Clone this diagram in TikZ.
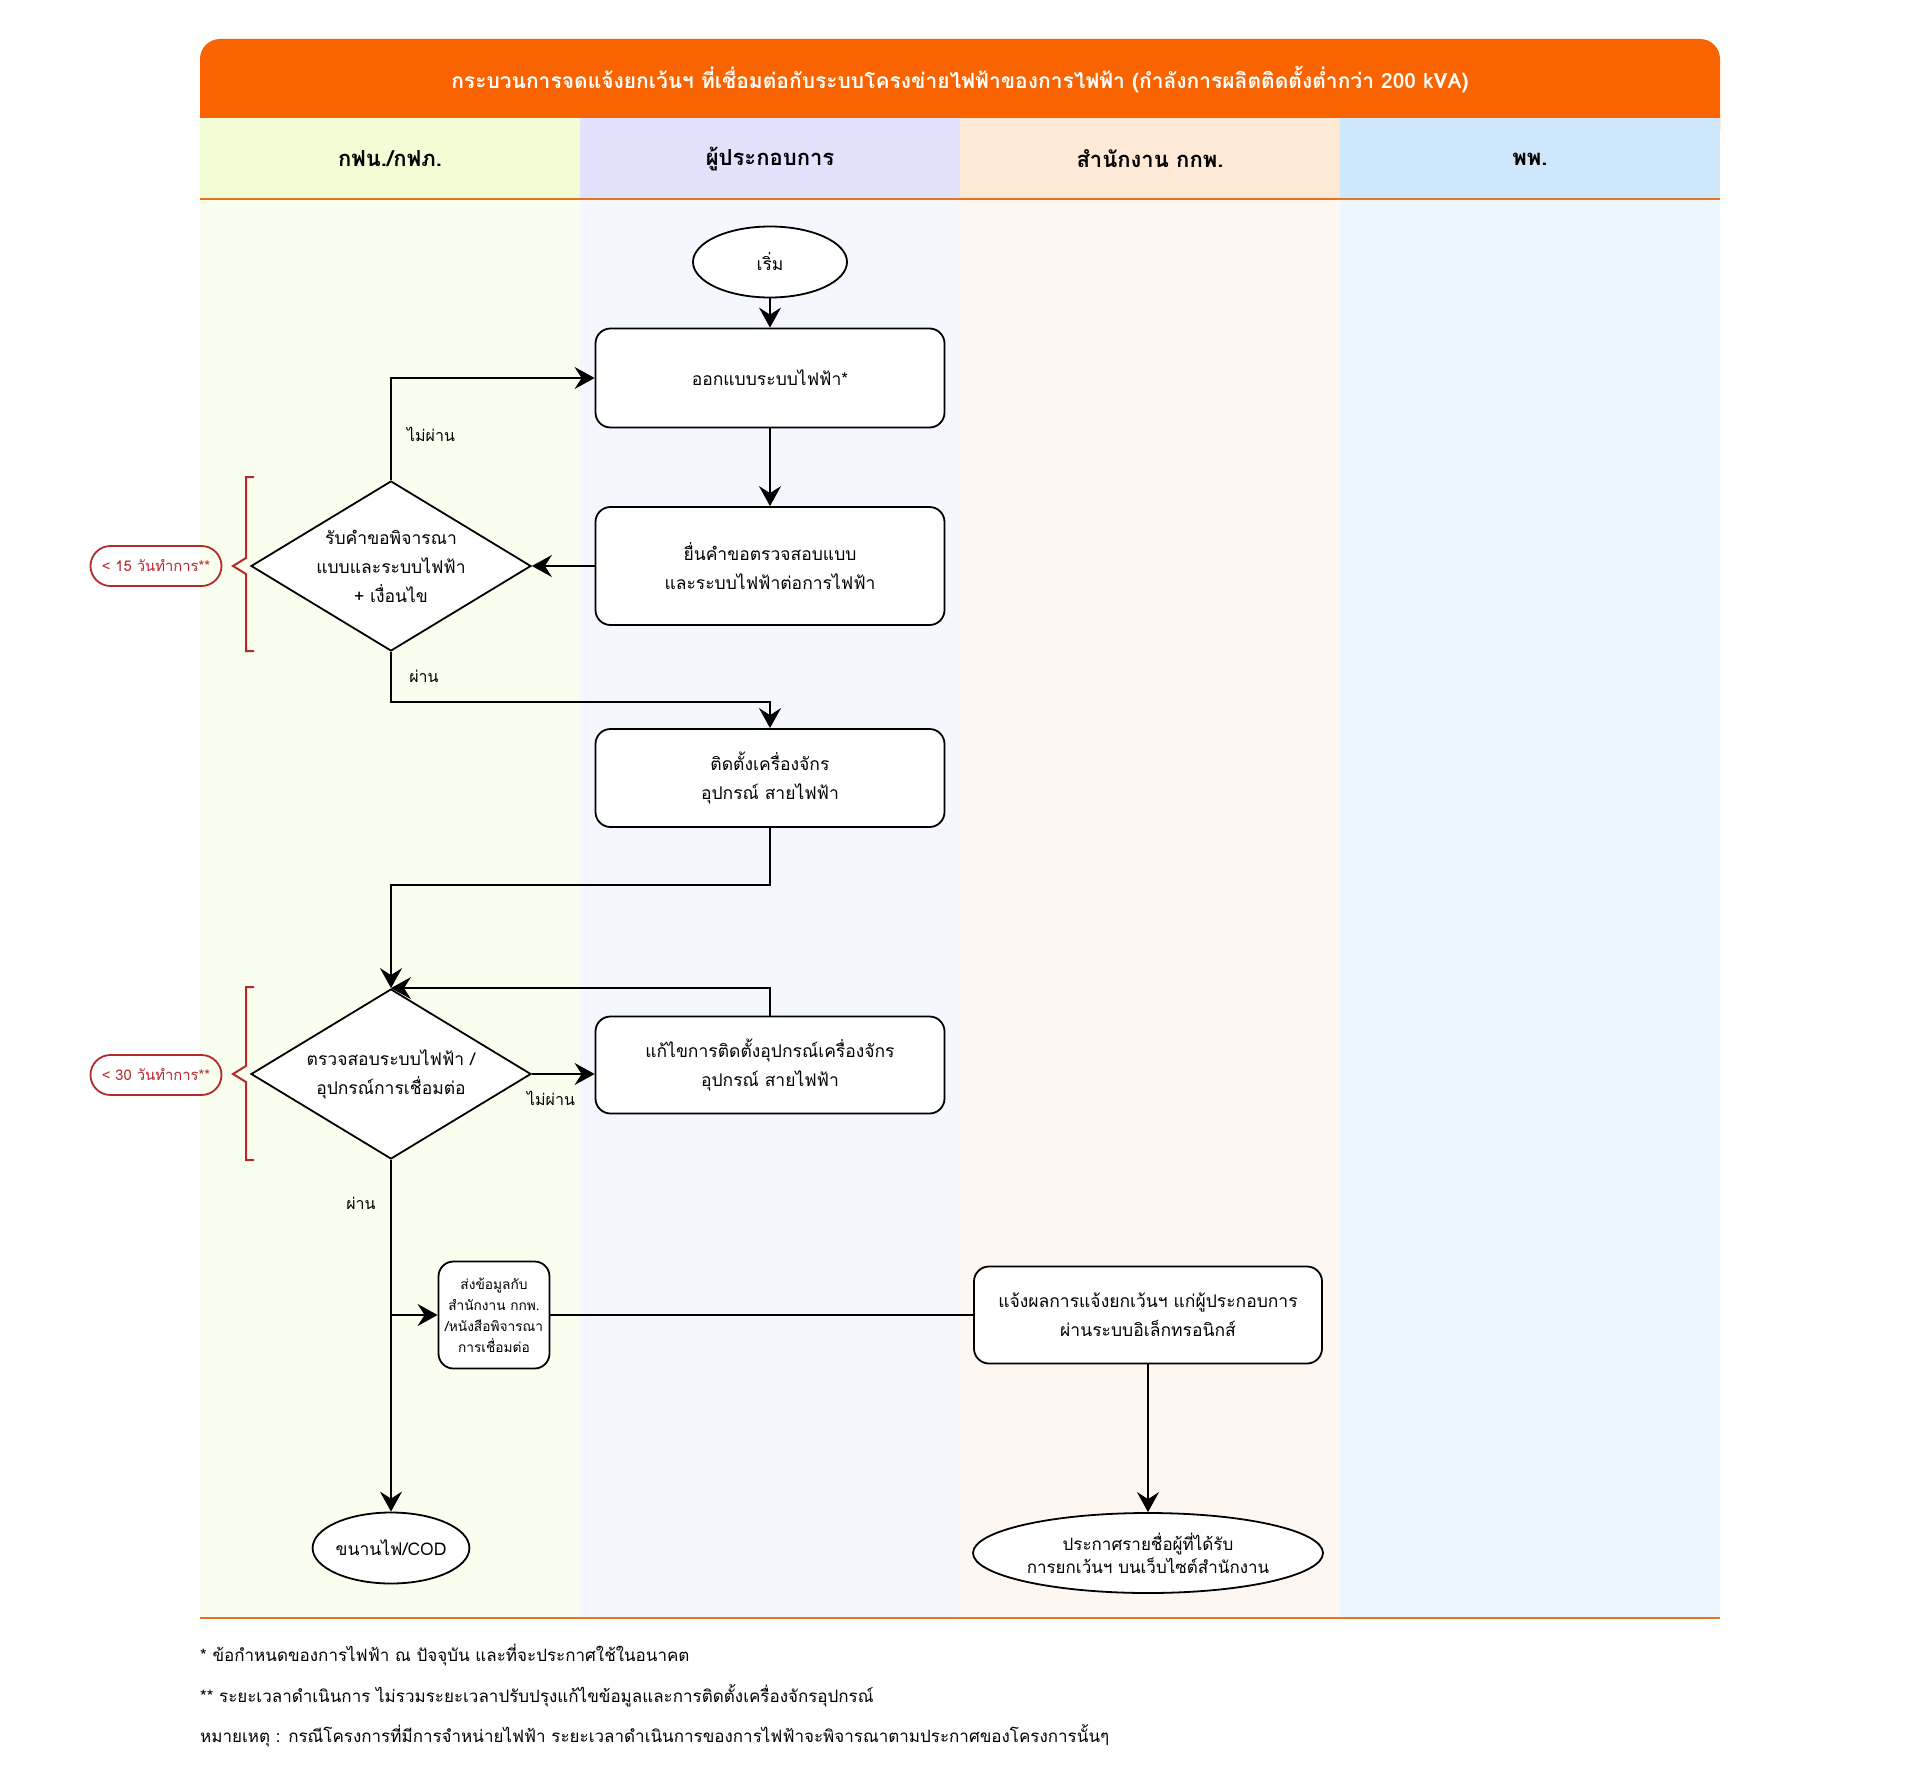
\documentclass[tikz,border=0pt]{standalone}
\usepackage{fontspec}
\setmainfont[Script=Thai]{Loma}
\usetikzlibrary{shapes.geometric,arrows.meta}

\definecolor{hdorange}{HTML}{F96400}
\definecolor{lineorange}{HTML}{E8731E}
\definecolor{lanea}{HTML}{F2FDD6}
\definecolor{laneb}{HTML}{E2E2FD}
\definecolor{lanec}{HTML}{FEE8D6}
\definecolor{laned}{HTML}{CFE7FA}
\definecolor{bodya}{HTML}{F9FEEF}
\definecolor{bodyb}{HTML}{F4F7FE}
\definecolor{bodyc}{HTML}{FEF6F1}
\definecolor{bodyd}{HTML}{EEF6FD}
\definecolor{notered}{HTML}{B5292B}

\newcommand{\boxfont}{\fontsize{17.5}{29}\selectfont}
\newcommand{\smallfont}{\fontsize{13.7}{21}\selectfont}
\newcommand{\labelfont}{\fontsize{16}{20}\selectfont}
\newcommand{\notefont}{\fontsize{17}{20}\selectfont}
\newcommand{\daysfont}{\fontsize{14.8}{18}\selectfont}
\newcommand{\lanefont}{\fontsize{22}{24}\selectfont\bfseries}

\begin{document}
\begin{tikzpicture}[x=1pt, y=-1pt,
    box/.style={draw, line width=1.8pt, rounded corners=15pt, fill=white, minimum width=349pt, inner sep=0pt, align=center, font=\boxfont},
    dia/.style={draw, diamond, aspect=1.65, line width=1.8pt, fill=white, inner sep=0pt, minimum width=280pt, minimum height=170pt, align=center, font=\boxfont},
    oval/.style={draw, ellipse, line width=1.8pt, fill=white, inner sep=0pt, align=center, font=\boxfont},
    arr/.style={line width=1.8pt, -{Stealth[length=20pt, width=22pt, inset=7pt]}},
    line/.style={line width=1.8pt},
    lbl/.style={font=\labelfont},
    days/.style={draw=notered, text=notered, line width=1.8pt, rounded corners=20pt, minimum width=131pt, minimum height=40pt, inner sep=0pt, font=\daysfont},
    brace/.style={draw=notered, line width=2pt},
    note/.style={anchor=west, inner sep=0pt, font=\notefont}
  ]
    \useasboundingbox[fill=white] (0,0) rectangle (1920,1769);

    % header and lanes
    \fill[hdorange, rounded corners=20pt] (200,39) rectangle (1720,150);
    \fill[lanea] (200,118) rectangle (580,198);
    \fill[laneb] (580,118) rectangle (960,198);
    \fill[lanec] (960,118) rectangle (1340,198);
    \fill[laned] (1340,118) rectangle (1720,198);
    \fill[bodya] (200,198) rectangle (580,1618);
    \fill[bodyb] (580,198) rectangle (960,1618);
    \fill[bodyc] (960,198) rectangle (1340,1618);
    \fill[bodyd] (1340,198) rectangle (1720,1618);
    \draw[lineorange, line width=2.5pt] (200,199) -- (1720,199);
    \draw[lineorange, line width=2.5pt] (200,1618) -- (1720,1618);

    \node(title) at (960,80) [text=white, font=\fontsize{21}{24}\selectfont\bfseries] {กระบวนการจดแจ้งยกเว้นฯ ที่เชื่อมต่อกับระบบโครงข่ายไฟฟ้าของการไฟฟ้า (กำลังการผลิตติดตั้งต่ำกว่า 200 kVA)};
    \node(laneA) at (390,159) [font=\lanefont] {กฟน./กฟภ.};
    \node(laneB) at (770,159) [font=\lanefont] {ผู้ประกอบการ};
    \node(laneC) at (1150,159) [font=\lanefont] {สำนักงาน กกพ.};
    \node(laneD) at (1530,159) [font=\lanefont] {พพ.};

    % flow
    \node(start) at (770,262) [oval, minimum width=154pt, minimum height=71pt] {เริ่ม};
    \node(design) at (770,378) [box, minimum height=99pt] {ออกแบบระบบไฟฟ้า*};
    \node(submit) at (770,566) [box, minimum height=118pt] {ยื่นคำขอตรวจสอบแบบ\\และระบบไฟฟ้าต่อการไฟฟ้า};
    \node(review) at (391,566) [dia] {รับคำขอพิจารณา\\แบบและระบบไฟฟ้า\\+ เงื่อนไข};
    \node(install) at (770,778) [box, minimum height=98pt] {ติดตั้งเครื่องจักร\\อุปกรณ์ สายไฟฟ้า};
    \node(check) at (391,1074) [dia] {ตรวจสอบระบบไฟฟ้า /\\อุปกรณ์การเชื่อมต่อ};
    \node(fix) at (770,1065) [box, minimum height=97pt] {แก้ไขการติดตั้งอุปกรณ์เครื่องจักร\\อุปกรณ์ สายไฟฟ้า};
    \node(send) at (494,1315) [box, minimum width=111pt, minimum height=107pt, font=\smallfont] {ส่งข้อมูลกับ\\สำนักงาน กกพ.\\/หนังสือพิจารณา\\การเชื่อมต่อ};
    \node(inform) at (1148,1315) [box, minimum width=348pt, minimum height=97pt] {แจ้งผลการแจ้งยกเว้นฯ แก่ผู้ประกอบการ\\ผ่านระบบอิเล็กทรอนิกส์};
    \node(cod) at (391,1548) [oval, minimum width=153pt, minimum height=71pt] {ขนานไฟ/COD};
    \node(publish) at (1148,1553) [oval, minimum width=350pt, minimum height=80pt, font=\fontsize{17}{23}\selectfont] {ประกาศรายชื่อผู้ที่ได้รับ\\การยกเว้นฯ บนเว็บไซต์สำนักงาน};
    \coordinate(split) at (391,1315);

    \draw[arr] (start) -- (design);
    \draw[arr] (design) -- (submit);
    \draw[arr] (submit.west) -- (review.east);
    \draw[arr] (review.north) |- (design.west);
    \draw[arr] (review.south) -- ++(0,50) -| (install.north);
    \draw[arr] (install.south) -- ++(0,57) -| (check.north);
    \draw[arr] (fix.north) |- (check.north);
    \draw[arr] (check.east) -- (check.east -| fix.west);
    \draw[arr] (check.south) -- (cod.north);
    \draw[arr] (split) -- (send.west);
    \draw[line] (send.east) -- (inform.west);
    \draw[arr] (inform) -- (publish);

    \node(nopass1) at (431,434) [lbl] {ไม่ผ่าน};
    \node(pass1) at (424,676) [lbl] {ผ่าน};
    \node(nopass2) at (551,1098) [lbl] {ไม่ผ่าน};
    \node(pass2) at (361,1203) [lbl] {ผ่าน};

    % time limits
    \draw[brace] (254,477) -- (246,477) -- (246,558) -- (233,566) -- (246,574) -- (246,651) -- (254,651);
    \node(days15) at (156,566) [days] {< 15 วันทำการ**};
    \draw[brace] (254,987) -- (246,987) -- (246,1066) -- (233,1074) -- (246,1082) -- (246,1160) -- (254,1160);
    \node(days30) at (156,1075) [days] {< 30 วันทำการ**};

    % footnotes
    \node(fnA) at (200,1655) [note] {* ข้อกำหนดของการไฟฟ้า ณ ปัจจุบัน และที่จะประกาศใช้ในอนาคต};
    \node(fnB) at (200,1696) [note] {** ระยะเวลาดำเนินการ ไม่รวมระยะเวลาปรับปรุงแก้ไขข้อมูลและการติดตั้งเครื่องจักรอุปกรณ์};
    \node(fnC) at (200,1736) [note] {หมายเหตุ : กรณีโครงการที่มีการจำหน่ายไฟฟ้า ระยะเวลาดำเนินการของการไฟฟ้าจะพิจารณาตามประกาศของโครงการนั้นๆ};
  \end{tikzpicture}
\end{document}
